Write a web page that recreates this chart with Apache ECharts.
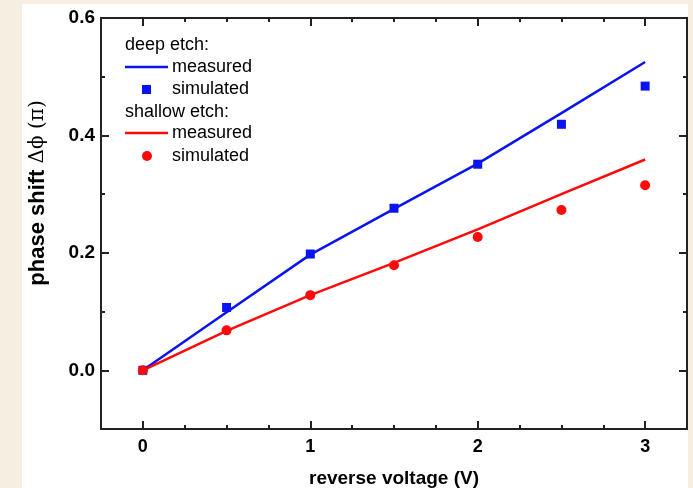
<!DOCTYPE html>
<html>
<head>
<meta charset="utf-8">
<script src="https://cdn.jsdelivr.net/npm/echarts@6/dist/echarts.min.js"></script>
<style>
  html, body { margin: 0; padding: 0; background: #f5eee1; }
  #chart { width: 693px; height: 488px; }
</style>
</head>
<body>
<div id="chart"></div>
<script>
// data
var voltage = [0, 0.5, 1, 1.5, 2, 2.5, 3];
var deepMeasured = [0, 0.099, 0.197, 0.275, 0.352, 0.438, 0.525];
var deepSimulated = [0, 0.107, 0.198, 0.276, 0.351, 0.419, 0.484];
var shallowMeasured = [0, 0.067, 0.128, 0.183, 0.240, 0.300, 0.359];
var shallowSimulated = [0, 0.068, 0.128, 0.179, 0.227, 0.273, 0.315];

var xMajor = [0, 1, 2, 3];
var xMinor = [-0.25, 0.25, 0.5, 0.75, 1.25, 1.5, 1.75, 2.25, 2.5, 2.75, 3.25];
var yMajor = [0, 0.2, 0.4, 0.6];
var yMinor = [-0.1, 0.1, 0.3, 0.5];

function pairs(xs, ys) {
    var out = [];
    for (var i = 0; i < xs.length; i++) out.push([xs[i], ys[i]]);
    return out;
}

var FONT = '"Liberation Sans", Arial, sans-serif';
var BLUE = '#0a14f0';
var RED = '#ff0a0a';

// one axis = line + ticks at given values
function xAx(pos, ticks, len, labels) {
    return {
        type: 'value', position: pos, min: -0.25, max: 3.25,
        axisLine: { show: true, onZero: false, lineStyle: { color: '#222', width: 2 } },
        axisTick: { show: true, inside: true, length: len, customValues: ticks,
                    lineStyle: { color: '#222', width: 2 } },
        axisLabel: labels ? {
            show: true, customValues: xMajor, margin: 9,
            color: '#000', fontFamily: FONT, fontWeight: 'bold', fontSize: 18
        } : { show: false },
        splitLine: { show: false }
    };
}
function yAx(pos, ticks, len, labels) {
    return {
        type: 'value', position: pos, min: -0.1, max: 0.6,
        axisLine: { show: true, onZero: false, lineStyle: { color: '#222', width: 2 } },
        axisTick: { show: true, inside: true, length: len, customValues: ticks,
                    lineStyle: { color: '#222', width: 2 } },
        axisLabel: labels ? {
            show: true, customValues: yMajor, margin: 6,
            color: '#000', fontFamily: FONT, fontWeight: 'bold', fontSize: 19,
            formatter: function (v) { return v.toFixed(1); }
        } : { show: false },
        splitLine: { show: false }
    };
}

var xAxes = [xAx('bottom', xMajor, 8, true), xAx('bottom', xMinor, 4, false),
             xAx('top', xMajor, 8, false), xAx('top', xMinor, 4, false)];
xAxes[0].name = 'reverse voltage (V)';
xAxes[0].nameLocation = 'middle';
xAxes[0].nameGap = 40;
xAxes[0].nameTextStyle = { color: '#000', fontFamily: FONT, fontWeight: 'bold', fontSize: 19 };

var yAxes = [yAx('left', yMajor, 8, true), yAx('left', yMinor, 4, false),
             yAx('right', yMajor, 8, false), yAx('right', yMinor, 4, false)];

var chart = echarts.init(document.getElementById('chart'));

function legText(x, y, s) {
    return { type: 'text', x: x, y: y, z: 20,
             style: { text: s, fontFamily: FONT, fontSize: 18, fill: '#000', verticalAlign: 'middle' } };
}

chart.setOption({
    animation: false,
    grid: { left: 101, top: 18, right: 6, bottom: 59, outerBoundsMode: 'none' },
    xAxis: xAxes,
    yAxis: yAxes,
    graphic: [
        { type: 'rect', shape: { x: 22, y: 4, width: 666, height: 484 },
          style: { fill: '#ffffff' }, z: -10, silent: true },
        { type: 'text', x: 38, y: 193, rotation: Math.PI / 2, z: 20,
          style: { text: '{b|phase shift }{g|\u0394\u03d5 (\u03c0)}', align: 'center', verticalAlign: 'middle',
                   rich: {
                       b: { fontFamily: FONT, fontWeight: 'bold', fontSize: 22, fill: '#000' },
                       g: { fontFamily: '"DejaVu Serif", serif', fontSize: 20, fill: '#000' }
                   } } },
        legText(125, 45, 'deep etch:'),
        { type: 'line', shape: { x1: 125, y1: 67, x2: 168, y2: 67 }, z: 20,
          style: { stroke: BLUE, lineWidth: 2.5 } },
        legText(172, 67, 'measured'),
        { type: 'rect', shape: { x: 142, y: 85, width: 9, height: 9 }, z: 20, style: { fill: BLUE } },
        legText(172, 89, 'simulated'),
        legText(125, 112, 'shallow etch:'),
        { type: 'line', shape: { x1: 125, y1: 133, x2: 168, y2: 133 }, z: 20,
          style: { stroke: RED, lineWidth: 2.5 } },
        legText(172, 133, 'measured'),
        { type: 'circle', shape: { cx: 147, cy: 156, r: 5 }, z: 20, style: { fill: RED } },
        legText(172, 156, 'simulated')
    ],
    series: [
        { name: 'deep measured', type: 'line', data: pairs(voltage, deepMeasured),
          showSymbol: false, lineStyle: { color: BLUE, width: 2.5 }, z: 2 },
        { name: 'shallow measured', type: 'line', data: pairs(voltage, shallowMeasured),
          showSymbol: false, lineStyle: { color: RED, width: 2.5 }, z: 2 },
        { name: 'deep simulated', type: 'scatter', data: pairs(voltage, deepSimulated),
          symbol: 'rect', symbolSize: 9, itemStyle: { color: BLUE, opacity: 1 }, z: 3 },
        { name: 'shallow simulated', type: 'scatter', data: pairs(voltage, shallowSimulated),
          symbol: 'circle', symbolSize: 10, itemStyle: { color: RED, opacity: 1 }, z: 4 }
    ]
});
</script>
</body>
</html>
